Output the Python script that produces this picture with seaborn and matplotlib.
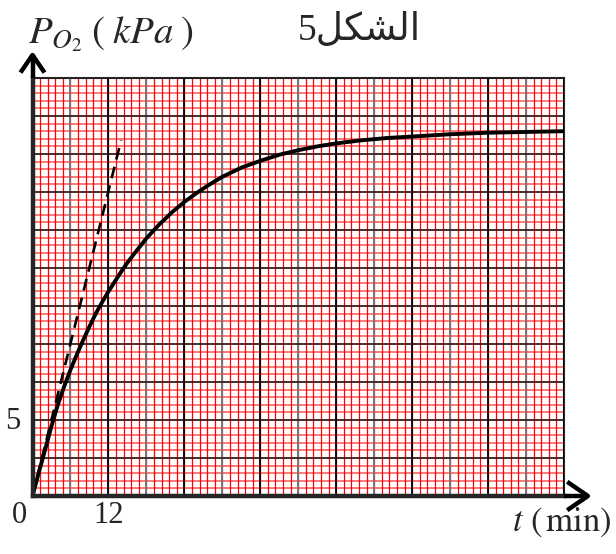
import numpy as np
import pandas as pd
import matplotlib
matplotlib.use("Agg")
import matplotlib.pyplot as plt
import seaborn as sns

# values
t_min = [0, 1, 2, 3, 4, 5, 6, 7, 8, 9, 10, 11, 12, 13, 14, 15, 16, 18, 20,
         22, 24, 26, 28, 30, 33, 36, 39, 42, 45, 48, 52, 56, 60, 66, 72, 78, 84]
p_o2 = [0, 1.55, 3.05, 4.6, 6.0, 7.2, 8.3, 9.3, 10.25, 11.15, 12.0, 12.75,
        13.45, 14.1, 14.75, 15.35, 15.9, 16.95, 17.85, 18.65, 19.35, 19.95,
        20.5, 21.0, 21.6, 22.05, 22.45, 22.75, 23.0, 23.2, 23.4, 23.55, 23.65,
        23.8, 23.9, 23.95, 24.0]

# tangent at the origin (dashed)
tangent_t = [0, 14.0]
tangent_p = [0, 23.4]

x_max, y_max = 84, 27.5
x_major, y_major = 12, 2.5
x_tick_labels = {0: "0", 12: "12"}
y_tick_labels = {5: "5"}

sns.set_style("white")
plt.rcParams["mathtext.fontset"] = "stix"
plt.rcParams["font.family"] = ["Liberation Serif", "DejaVu Sans"]

fig = plt.figure(figsize=(6.16, 5.54), dpi=100)
ax = fig.add_axes([32.5 / 616, 1 - 496 / 554, 531.5 / 616, 418 / 554])
ax.set_xlim(0, x_max)
ax.set_ylim(0, y_max)

# graph paper grid
for y in np.arange(0, y_max + 0.01, 0.5):
    ax.axhline(y, color="#ff6e6e", lw=1.3, zorder=1)
for x in np.arange(0, x_max + 0.01, 1.2):
    ax.axvline(x, color="#ff0000", lw=0.9, zorder=2)
for x in np.arange(6, x_max, 12):
    ax.axvline(x, color="#777777", lw=1.4, zorder=3)
for x in np.arange(0, x_max + 0.01, x_major):
    ax.axvline(x, color="black", lw=1.3, zorder=3)
for y in np.arange(0, y_max + 0.01, y_major):
    ax.axhline(y, color="#1a1a1a", lw=1.1, zorder=3)

df = pd.DataFrame({"t": t_min, "P": p_o2})
sns.lineplot(data=df, x="t", y="P", ax=ax, color="black", lw=2.8,
             zorder=5, sort=False)
tan = pd.DataFrame({"t": tangent_t, "P": tangent_p})
sns.lineplot(data=tan, x="t", y="P", ax=ax, color="black", lw=1.9,
             zorder=5, sort=False)
ax.lines[-1].set_dashes([4.5, 2.8])

ax.set_xticks([])
ax.set_yticks([])
ax.set_xlabel("")
ax.set_ylabel("")
for side in ["top", "right"]:
    ax.spines[side].set_linewidth(1.5)
for side in ["left", "bottom"]:
    ax.spines[side].set_linewidth(3.2)
    ax.spines[side].set_zorder(6)

# axis arrows
kw = dict(transform=ax.transAxes, clip_on=False, color="black", lw=3.2,
          solid_capstyle="butt", zorder=7)
ax.plot([0, 0], [1, 1.055], **kw)
ax.plot([-0.0226, 0, 0.0226], [1.013, 1.055, 1.013], **kw)
ax.plot([1, 1.045], [0, 0], **kw)
ax.plot([1.006, 1.045, 1.006], [0.034, 0, -0.034], **kw)

for x, s in x_tick_labels.items():
    off = -2.0 if x == 0 else 0
    ax.text(x + off, -1.3, s, ha="center", va="center", fontsize=22,
            clip_on=False)
for y, s in y_tick_labels.items():
    ax.text(-3.2, y - 0.1, s, ha="center", va="center", fontsize=22,
            clip_on=False)

fig.text(28 / 616, 1 - 34 / 554, r"$P_{O_2}\;(\;kPa\;)$", ha="left",
         va="center", fontsize=28)
fig.text(612 / 616, 1 - 522 / 554, r"$t\ (\,\mathrm{min})$", ha="right",
         va="center", fontsize=25)
# Arabic title "الشكل5": word given in presentation forms (visual order)
fig.text(421 / 616, 1 - 31 / 554, "5\uFEDE\uFEDC\uFEB8\uFEDF\uFE8D",
         ha="right", va="center", fontsize=27)

fig.savefig("out.png", dpi=100)
